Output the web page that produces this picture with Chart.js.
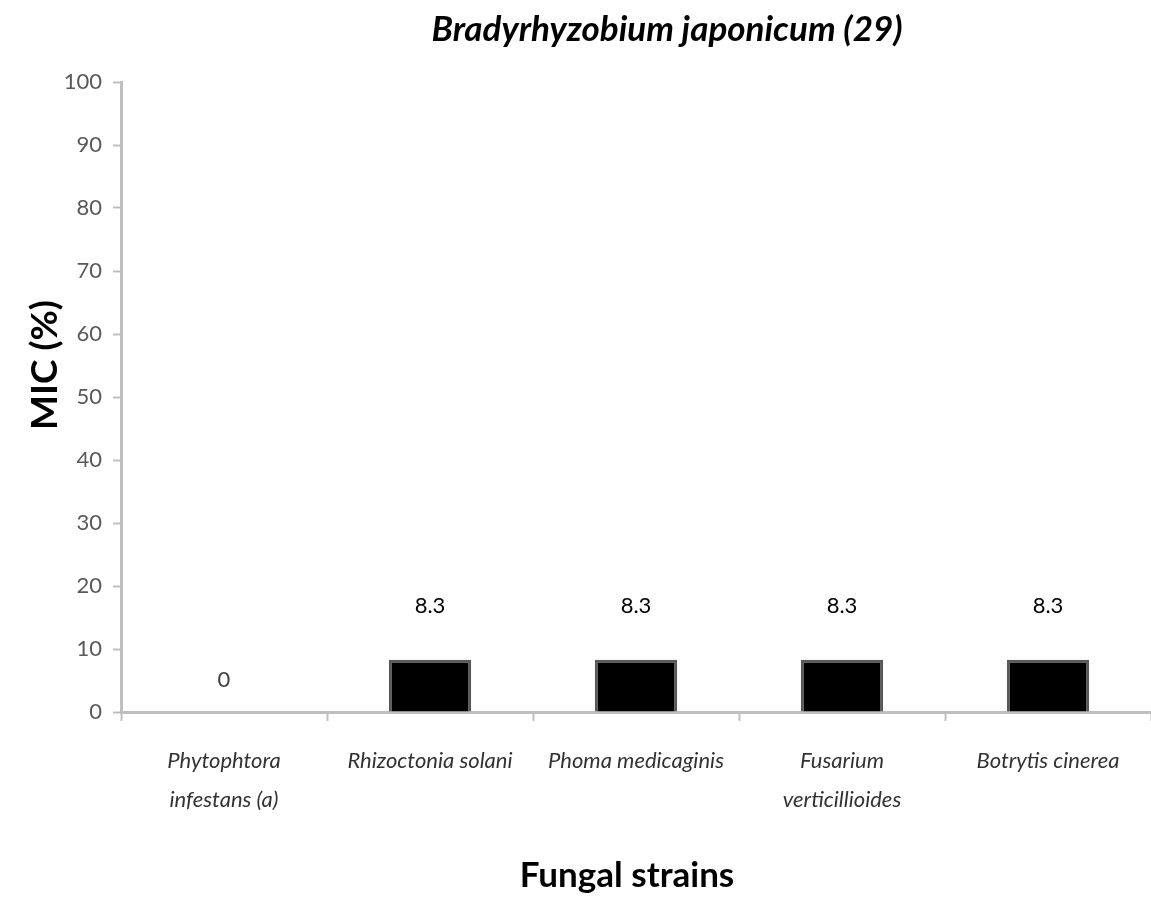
<!DOCTYPE html>
<html>
<head>
<meta charset="utf-8">
<script src="https://cdn.jsdelivr.net/npm/chart.js@4.4.0/dist/chart.umd.min.js"></script>
<style>
  html, body { margin: 0; padding: 0; background: #fff; }
  #wrap { width: 1151px; height: 898px; position: relative; }
</style>
</head>
<body>
<div id="wrap"><canvas id="myChart"></canvas></div>
<script>
const strains = [['Phytophtora', 'infestans (a)'], 'Rhizoctonia solani', 'Phoma medicaginis', ['Fusarium', 'verticillioides'], 'Botrytis cinerea'];
const mic = [0, 8.3, 8.3, 8.3, 8.3];
const valueLabels = ['0', '8.3', '8.3', '8.3', '8.3'];
const yTicks = [0, 10, 20, 30, 40, 50, 60, 70, 80, 90, 100];

const axisGray = '#bfbfbf';
const font = 'Lato, "Open Sans", sans-serif';

// titles drawn by hand: both sit off-centre in the original
const titlePlugin = {
    id: 'plotTitles',
    afterDraw(chart) {
        const { ctx, chartArea } = chart;
        ctx.save();
        ctx.fillStyle = '#000';
        ctx.textAlign = 'center';
        ctx.textBaseline = 'middle';
        ctx.font = 'italic bold 35px ' + font;
        ctx.fillText('Bradyrhyzobium japonicum (29)', (chartArea.left + chartArea.right) / 2 + 31, 30);
        ctx.font = 'bold 35px ' + font;
        ctx.fillText('Fungal strains', (chartArea.left + chartArea.right) / 2 - 9, 876);
        ctx.translate(45, 365);
        ctx.rotate(-Math.PI / 2);
        ctx.font = 'bold 37px ' + font;
        ctx.fillText('MIC (%)', 0, 0);
        ctx.restore();
    }
};

const valuePlugin = {
    id: 'valueLabels',
    afterDatasetsDraw(chart) {
        const { ctx } = chart;
        const meta = chart.getDatasetMeta(0);
        ctx.save();
        ctx.font = '22px ' + font;
        ctx.textAlign = 'center';
        ctx.textBaseline = 'middle';
        meta.data.forEach((bar, i) => {
            const zero = mic[i] === 0;
            ctx.fillStyle = zero ? '#404040' : '#000';
            ctx.fillText(valueLabels[i], bar.x, bar.y - (zero ? 32 : 54));
        });
        ctx.restore();
    }
};

const ctx = document.getElementById('myChart');

new Chart(ctx, {
    type: 'bar',
    data: {
        labels: strains,
        datasets: [{
            label: 'MIC (%)',
            data: mic,
            backgroundColor: '#000000',
            borderColor: '#5a5a5a',
            borderWidth: 3,
            borderSkipped: 'bottom',
            barPercentage: 0.5,
            categoryPercentage: 0.8
        }]
    },
    options: {
        responsive: true,
        maintainAspectRatio: false,
        animation: false,
        layout: { padding: { top: 82, right: 0, left: 0, bottom: 0 } },
        plugins: {
            legend: { display: false },
            title: { display: false },
            tooltip: { enabled: false }
        },
        scales: {
            x: {
                afterFit: s => { s.height = 186; },
                grid: {
                    drawOnChartArea: false,
                    drawTicks: true,
                    tickLength: 9,
                    tickWidth: 2,
                    color: axisGray,
                    offset: true
                },
                border: { color: axisGray, width: 3 },
                ticks: {
                    color: '#333',
                    padding: 21,
                    maxRotation: 0,
                    autoSkip: false,
                    font: { family: font, size: 22, style: 'italic', lineHeight: 1.75 }
                }
            },
            y: {
                min: 0,
                max: 100,
                afterFit: s => { s.width = 121; },
                afterBuildTicks: s => { s.ticks = yTicks.map(v => ({ value: v })); },
                grid: {
                    drawOnChartArea: false,
                    drawTicks: true,
                    tickLength: 8,
                    tickWidth: 2,
                    color: axisGray
                },
                border: { color: axisGray, width: 3 },
                ticks: {
                    color: '#595959',
                    padding: 11,
                    font: { family: font, size: 22 }
                }
            }
        }
    },
    plugins: [titlePlugin, valuePlugin]
});
</script>
</body>
</html>
